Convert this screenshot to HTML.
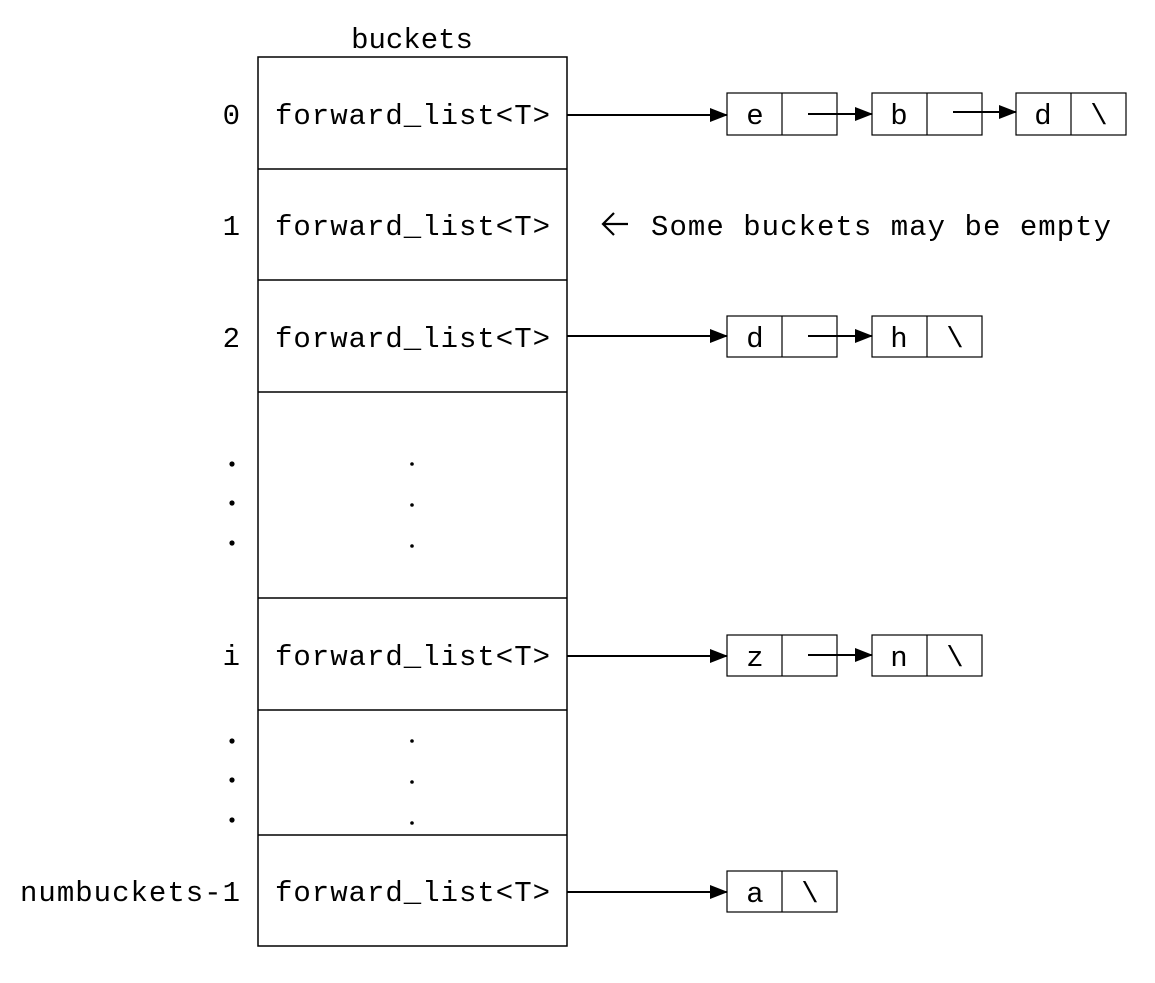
<!DOCTYPE html>
<html><head><meta charset="utf-8"><style>
html,body{margin:0;padding:0;background:#fff;}
svg{display:block;}
text{font-family:"Liberation Mono","DejaVu Sans Mono",monospace;font-size:29px;fill:#000;}
</style></head><body>
<svg width="1155" height="983" viewBox="0 0 1155 983" xmlns="http://www.w3.org/2000/svg">
<defs><marker id="a" markerWidth="18" markerHeight="14" refX="17" refY="7" orient="auto" markerUnits="userSpaceOnUse"><path d="M0,0 L18,7 L0,14 z" fill="#000"/></marker></defs>
<text x="412" y="48" text-anchor="middle">buckets</text>
<g fill="none" stroke="#000" stroke-width="1.5">
<rect x="258" y="57" width="309" height="889"/>
<line x1="258" y1="169" x2="567" y2="169"/>
<line x1="258" y1="280" x2="567" y2="280"/>
<line x1="258" y1="392" x2="567" y2="392"/>
<line x1="258" y1="598" x2="567" y2="598"/>
<line x1="258" y1="710" x2="567" y2="710"/>
<line x1="258" y1="835" x2="567" y2="835"/>
</g>
<g text-anchor="end">
<text x="240" y="124">0</text><text x="240" y="235">1</text><text x="240" y="347">2</text>
<text x="240" y="665">i</text>
</g>
<text x="20" y="901" textLength="220">numbuckets-1</text>
<g>
<text x="275" y="124" textLength="275">forward_list&lt;T&gt;</text>
<text x="275" y="235" textLength="275">forward_list&lt;T&gt;</text>
<text x="275" y="347" textLength="275">forward_list&lt;T&gt;</text>
<text x="275" y="665" textLength="275">forward_list&lt;T&gt;</text>
<text x="275" y="901" textLength="275">forward_list&lt;T&gt;</text>
<text x="651" y="235" textLength="460">Some buckets may be empty</text>
</g>
<path d="M628,224 H604 M614,213 L603,224 L614,235" fill="none" stroke="#000" stroke-width="2.2"/>
<g fill="#000">
<circle cx="232" cy="464" r="2.6"/><circle cx="232" cy="503" r="2.6"/><circle cx="232" cy="543" r="2.6"/>
<circle cx="412" cy="464" r="1.8"/><circle cx="412" cy="505" r="1.8"/><circle cx="412" cy="546" r="1.8"/>
<circle cx="232" cy="741" r="2.6"/><circle cx="232" cy="780" r="2.6"/><circle cx="232" cy="820" r="2.6"/>
<circle cx="412" cy="741" r="1.8"/><circle cx="412" cy="782" r="1.8"/><circle cx="412" cy="823" r="1.8"/>
</g>
<g fill="none" stroke="#000" stroke-width="1.2">
<rect x="727" y="93" width="110" height="42"/><line x1="782" y1="93" x2="782" y2="135"/>
<rect x="872" y="93" width="110" height="42"/><line x1="927" y1="93" x2="927" y2="135"/>
<rect x="1016" y="93" width="110" height="42"/><line x1="1071" y1="93" x2="1071" y2="135"/>
<rect x="727" y="316" width="110" height="41"/><line x1="782" y1="316" x2="782" y2="357"/>
<rect x="872" y="316" width="110" height="41"/><line x1="927" y1="316" x2="927" y2="357"/>
<rect x="727" y="635" width="110" height="41"/><line x1="782" y1="635" x2="782" y2="676"/>
<rect x="872" y="635" width="110" height="41"/><line x1="927" y1="635" x2="927" y2="676"/>
<rect x="727" y="871" width="110" height="41"/><line x1="782" y1="871" x2="782" y2="912"/>
</g>
<g stroke="#000" stroke-width="2" marker-end="url(#a)">
<line x1="567" y1="115" x2="727" y2="115"/>
<line x1="808" y1="114" x2="872" y2="114"/>
<line x1="953" y1="112" x2="1016" y2="112"/>
<line x1="567" y1="336" x2="727" y2="336"/>
<line x1="808" y1="336" x2="872" y2="336"/>
<line x1="567" y1="656" x2="727" y2="656"/>
<line x1="808" y1="655" x2="872" y2="655"/>
<line x1="567" y1="892" x2="727" y2="892"/>
</g>
<g text-anchor="middle">
<text x="755" y="124">e</text><text x="899" y="124">b</text><text x="1043" y="124">d</text><text x="1099" y="124">\</text>
<text x="755" y="347">d</text><text x="899" y="347">h</text><text x="955" y="347">\</text>
<text x="755" y="666">z</text><text x="899" y="666">n</text><text x="955" y="666">\</text>
<text x="755" y="902">a</text><text x="810" y="902">\</text>
</g>
</svg>
</body></html>
